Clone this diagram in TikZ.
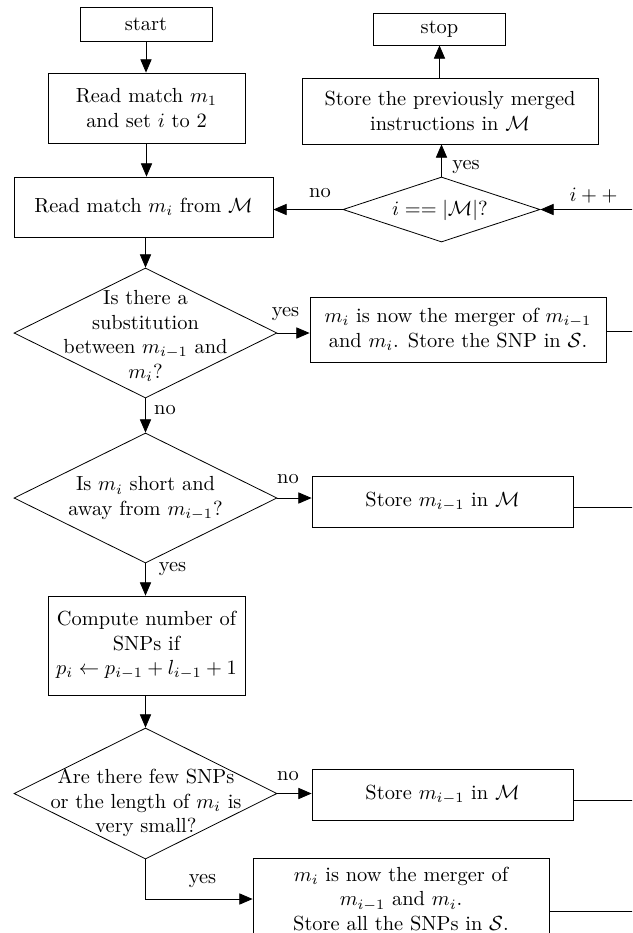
\documentclass[tikz,border=0pt]{standalone}
\usetikzlibrary{shapes.geometric,arrows.meta,calc}
\begin{document}
\begin{tikzpicture}[x=0.49pt,y=-0.49pt,
  box/.style={draw,rectangle,inner sep=0pt,align=center},
  dia/.style={draw,diamond,inner sep=0pt},
  sz/.style 2 args={minimum width=#1*0.49pt,minimum height=#2*0.49pt},
  arr/.style={-{Triangle[length=6.5pt,width=5.5pt]}},
  lbl/.style={inner sep=0pt},
  dtext/.style={align=center,inner sep=0pt}]
\useasboundingbox (0,0) rectangle (632,933);
\clip (0,0) rectangle (632,933);
% left column
\node[box,sz={132}{34}] (start) at (146,24) {start};
\node[box,sz={197}{70}] (rm1) at (146.5,108) {Read match $m_1$\\and set $i$ to 2};
\node[box,sz={259}{60}] (rmi) at (143.5,207) {Read match $m_i$ from $\mathcal{M}$};
\node[dia,sz={263}{130}] (d2) at (145.5,333) {};
\node[dtext] at (145.5,336) {Is there a\\substitution\\between $m_{i-1}$ and\\$m_i$?};
\node[dia,sz={263}{130}] (d3) at (145.5,498) {};
\node[dtext] at (145.5,498.5) {Is $m_i$ short and\\away from $m_{i-1}$?};
\node[box,sz={197}{99}] (cmp) at (146.5,645.5) {Compute number of\\SNPs if\\$p_i \leftarrow p_{i-1}+l_{i-1}+1$};
\node[dia,sz={263}{131}] (d4) at (145.5,793.5) {};
\node[dtext] at (146,803) {Are there few SNPs\\or the length of $m_i$ is\\very small?};
% right column
\node[box,sz={132}{32}] (stop) at (439.5,29) {stop};
\node[box,sz={296}{66}] (sp) at (450,111) {Store the previously merged\\instructions in $\mathcal{M}$};
\node[dia,sz={197}{65}] (dt) at (441.5,209.5) {};
\node[dtext] at (440,210) {$i == |\mathcal{M}|$?};
\node[box,sz={296}{65}] (mg1) at (458,329.5) {$m_i$ is now the merger of $m_{i-1}$\\and $m_i$. Store the SNP in $\mathcal{S}$.};
\node[box,sz={261}{51}] (st1) at (442.5,501.5) {Store $m_{i-1}$ in $\mathcal{M}$};
\node[box,sz={261}{51}] (st2) at (442.5,794.5) {Store $m_{i-1}$ in $\mathcal{M}$};
\node[box,sz={296}{82}] (mg2) at (401,899) {$m_i$ is now the merger of\\$m_{i-1}$ and $m_i$.\\Store all the SNPs in $\mathcal{S}$.};
% connectors
\draw[arr] (start) -- (rm1.north -| start);
\draw[arr] (rm1.south) -- (rm1.south |- rmi.north);
\draw[arr] (d2.north |- rmi.south) -- (d2.north);
\draw[arr] (d2.east) -- (d2.east -| mg1.west);
\draw[arr] (d2.south) -- (d3.north);
\draw[arr] (d3.east) -- (d3.east -| st1.west);
\draw[arr] (d3.south) -- (d3.south |- cmp.north);
\draw[arr] (d4.north |- cmp.south) -- (d4.north);
\draw[arr] (d4.east) -- (d4.east -| st2.west);
\draw[arr] (d4.south) -- (d4.south |- mg2.west) -- (mg2.west);
\draw[arr] (dt.west) -- (dt.west -| rmi.east);
\draw[arr] (dt.north) -- (dt.north |- sp.south);
\draw[arr] (stop.south |- sp.north) -- (stop.south);
\coordinate (inc) at (660,209.5);
\draw[arr] (inc) -- (dt.east);
\draw ($(mg1.east)+(0,1.5)$) -- ++(60,0);
\draw ($(st1.east)+(0,5.5)$) -- ++(80,0);
\draw ($(st2.east)+(0,5.5)$) -- ++(80,0);
\draw ($(mg2.east)+(0,12)$) -- ++(100,0);
% labels
\node[lbl] at (320,193) {no};
\node[lbl] at (466,167.5) {yes};
\node[lbl] at (593.5,196) {$i++$};
\node[lbl] at (285.5,314) {yes};
\node[lbl] at (165,410) {no};
\node[lbl] at (288,479) {no};
\node[lbl] at (172.5,569) {yes};
\node[lbl] at (288,776) {no};
\node[lbl] at (202.5,881.5) {yes};
\end{tikzpicture}
\end{document}
